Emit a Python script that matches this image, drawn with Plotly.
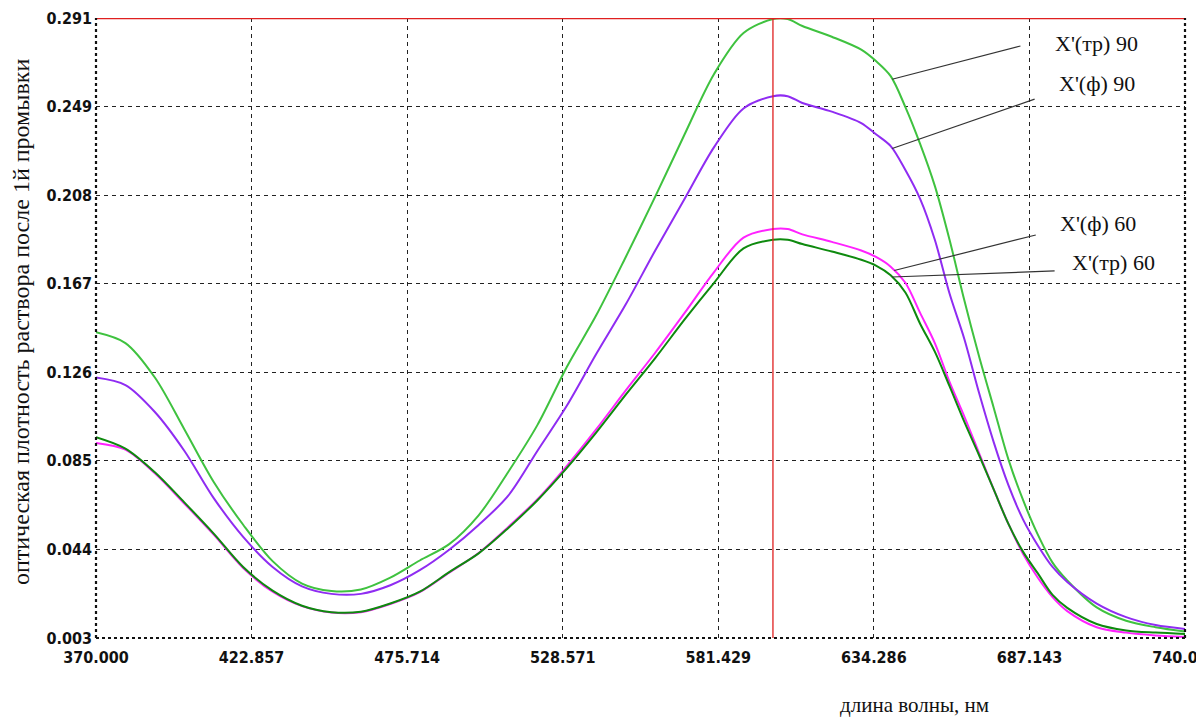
import numpy as np
import plotly.graph_objects as go

wavelength = [370, 380, 390, 400, 410, 420, 430, 440, 450, 460, 470, 480, 490, 500,
              510, 520, 530, 540, 550, 560, 570, 580, 590, 600, 605, 610, 620, 630,
              635, 640, 645, 650, 655, 660, 665, 670, 675, 680, 685, 690, 695, 700,
              710, 720, 730, 740]

x_tr_90 = [0.145, 0.140, 0.124, 0.100, 0.0755, 0.0556, 0.0387, 0.0283, 0.0248, 0.0255,
           0.031, 0.039, 0.0466, 0.060, 0.080, 0.102, 0.129, 0.153, 0.180, 0.208,
           0.237, 0.265, 0.284, 0.2905, 0.2905, 0.2873, 0.2823, 0.2763, 0.271, 0.264,
           0.2496, 0.2325, 0.213, 0.188, 0.160, 0.134, 0.110, 0.086, 0.067, 0.051,
           0.038, 0.0297, 0.0172, 0.011, 0.008, 0.006]

x_f_90 = [0.124, 0.1205, 0.108, 0.090, 0.068, 0.050, 0.036, 0.027, 0.0235, 0.0235,
          0.0275, 0.0345, 0.044, 0.0555, 0.069, 0.090, 0.111, 0.135, 0.158, 0.183,
          0.207, 0.231, 0.249, 0.2547, 0.2547, 0.2515, 0.2475, 0.2422, 0.237, 0.2315,
          0.2204, 0.207, 0.188, 0.163, 0.142, 0.117, 0.094, 0.074, 0.058, 0.046,
          0.036, 0.029, 0.019, 0.0127, 0.009, 0.0072]

x_f_60 = [0.0936, 0.0905, 0.0795, 0.0655, 0.051, 0.0355, 0.0245, 0.0178, 0.0148, 0.015,
          0.0188, 0.0243, 0.0334, 0.0425, 0.0545, 0.0675, 0.083, 0.100, 0.118, 0.1355,
          0.154, 0.173, 0.189, 0.193, 0.193, 0.1905, 0.187, 0.183, 0.180, 0.1755,
          0.168, 0.154, 0.140, 0.122, 0.106, 0.089, 0.072, 0.056, 0.042, 0.031,
          0.022, 0.0155, 0.008, 0.0055, 0.0042, 0.0035]

x_tr_60 = [0.0963, 0.091, 0.080, 0.066, 0.0515, 0.036, 0.025, 0.018, 0.015, 0.0152,
           0.019, 0.0245, 0.0336, 0.0423, 0.054, 0.067, 0.082, 0.0985, 0.116, 0.133,
           0.151, 0.168, 0.184, 0.188, 0.188, 0.186, 0.1825, 0.1787, 0.176, 0.1715,
           0.1635, 0.149, 0.136, 0.120, 0.1035, 0.088, 0.072, 0.056, 0.043, 0.033,
           0.023, 0.017, 0.0095, 0.0065, 0.0055, 0.0049]

series_names = ["X'(тр) 90", "X'(ф) 90", "X'(ф) 60", "X'(тр) 60"]
series_values = [x_tr_90, x_f_90, x_f_60, x_tr_60]
series_colors = ["#3fc23f", "#8f2cf2", "#ff22ff", "#0e8a0e"]

x_ticks = [370.0, 422.857, 475.714, 528.571, 581.429, 634.286, 687.143, 740.0]
x_tick_labels = ["370.000", "422.857", "475.714", "528.571", "581.429", "634.286",
                 "687.143", "740.000"]
y_ticks = [0.003, 0.044143, 0.085286, 0.126429, 0.167571, 0.208714, 0.249857, 0.291]
y_tick_labels = ["0.003", "0.044", "0.085", "0.126", "0.167", "0.208", "0.249", "0.291"]
x_min, x_max = 370, 740
y_min, y_max = 0.003, 0.291
cursor_wl = 600

# label anchor (text left edge) and leader line end, per series
label_pos = [(695.0, 0.279), (696.4, 0.2608), (696.7, 0.1957), (700.8, 0.1776)]
leader_end = [(684.1, 0.278), (688.9, 0.2533), (689.3, 0.1902), (695.7, 0.1735)]
leader_tip_wl = [640.5, 640.5, 641.2, 640.5]

fig = go.Figure()
for i in [0, 1, 2, 3]:
    fig.add_trace(go.Scatter(
        x=wavelength, y=series_values[i], mode="lines", name=series_names[i],
        line=dict(color=series_colors[i], width=2, shape="spline", smoothing=0.9),
        showlegend=False))

shapes = []
shapes.append(dict(type="line", xref="x", yref="y", x0=cursor_wl, x1=cursor_wl,
                   y0=y_min, y1=y_max, line=dict(color="#e02020", width=1.3)))
shapes.append(dict(type="line", xref="paper", yref="y", x0=0, x1=1,
                   y0=y_max, y1=y_max, line=dict(color="#e02020", width=2.5)))
for (x0, x1, y0, y1) in [(0, 0, 0, 1), (1, 1, 0, 1), (0, 1, 0, 0)]:
    shapes.append(dict(type="line", xref="paper", yref="paper", x0=x0, x1=x1,
                       y0=y0, y1=y1, line=dict(color="#111", width=2.2, dash="dot")))
for i in range(4):
    tip_y = float(np.interp(leader_tip_wl[i], wavelength, series_values[i]))
    shapes.append(dict(type="line", xref="x", yref="y",
                       x0=leader_tip_wl[i], y0=tip_y,
                       x1=leader_end[i][0], y1=leader_end[i][1],
                       line=dict(color="#333", width=1.2)))

annotations = []
for i in range(4):
    annotations.append(dict(x=label_pos[i][0], y=label_pos[i][1], xref="x", yref="y",
                            text=series_names[i], showarrow=False, xanchor="left",
                            yanchor="middle",
                            font=dict(family="Liberation Serif", size=22, color="#111")))
annotations.append(dict(x=0.752, y=-0.108, xref="paper", yref="paper",
                        text="длина волны, нм", showarrow=False,
                        xanchor="center", yanchor="middle",
                        font=dict(family="Liberation Serif", size=21, color="#111")))
annotations.append(dict(x=-0.0695, y=0.51, xref="paper", yref="paper",
                        text="оптическая плотность раствора после 1й промывки",
                        textangle=-90, showarrow=False,
                        xanchor="center", yanchor="middle",
                        font=dict(family="Liberation Serif", size=24, color="#111")))

tickfont = dict(family="DejaVu Sans Condensed, DejaVu Sans", size=16, color="#111",
                weight="bold")

# the page body adds an 8px offset; size the figure so the plot lands where it should
fig.update_layout(
    width=1196, height=710,
    margin=dict(l=88, r=19, t=10, b=80, autoexpand=False),
    paper_bgcolor="white", plot_bgcolor="white",
    shapes=shapes, annotations=annotations,
    xaxis=dict(range=[x_min, x_max], tickvals=x_ticks, ticktext=x_tick_labels,
               showgrid=True, gridcolor="#222", gridwidth=1.2, griddash="4px,4px",
               zeroline=False, showline=False, ticks="", tickfont=tickfont,
               ticklabelstandoff=8, ticklabeloverflow="allow", automargin=False),
    yaxis=dict(range=[y_min, y_max], tickvals=y_ticks, ticktext=y_tick_labels,
               showgrid=True, gridcolor="#222", gridwidth=1.2, griddash="4px,4px",
               zeroline=False, showline=False, ticks="", tickfont=tickfont,
               ticklabelstandoff=3, ticklabeloverflow="allow", automargin=False),
)

fig.write_html("out.html")
